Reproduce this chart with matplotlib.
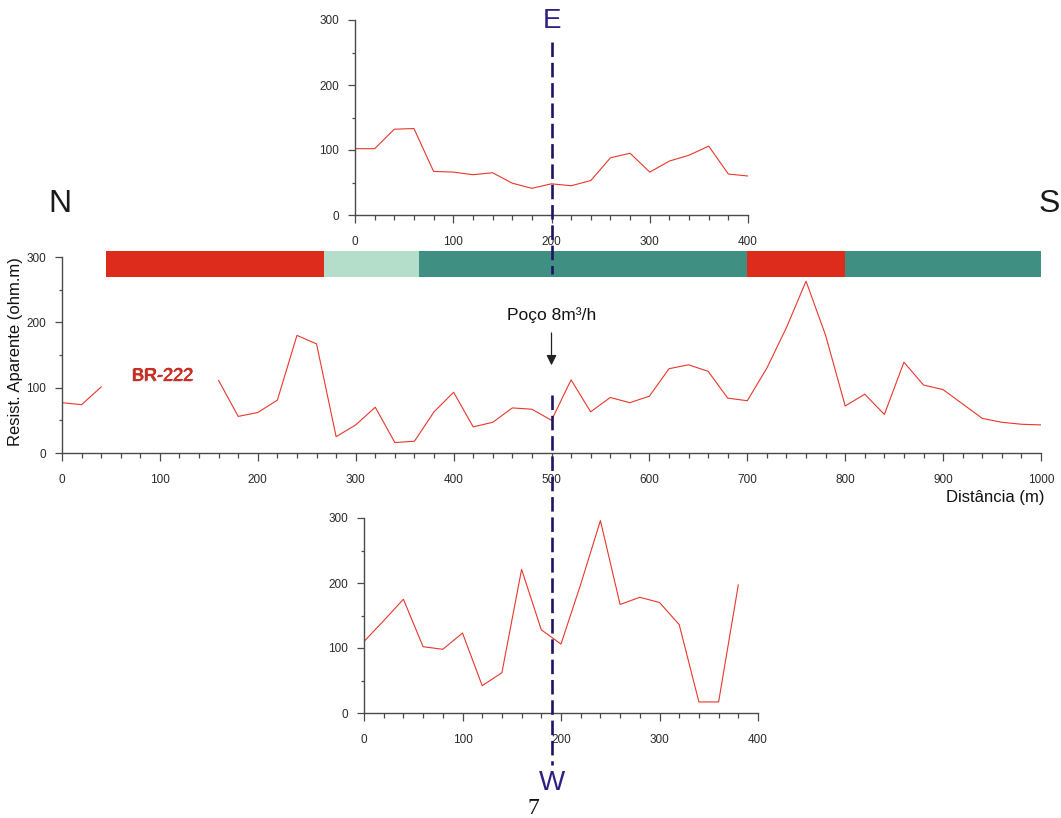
import numpy as np
import matplotlib
matplotlib.use('Agg')
import matplotlib.pyplot as plt
import matplotlib.transforms as mtransforms
import matplotlib.patheffects as pe

plt.rcParams['font.family'] = ['Liberation Sans', 'DejaVu Sans']

# Main profile (N-S), stations every 20 m, gap where the road crosses
main_x = np.arange(0, 1001, 20)
main_rho = [77, 74, 101, np.nan, np.nan, np.nan, np.nan, np.nan, 111, 56,
            62, 81, 180, 167, 25, 43, 70, 16, 18, 63,
            93, 40, 47, 69, 67, 50, 112, 63, 85, 77,
            87, 129, 135, 125, 84, 80, 130, 192, 263, 180,
            72, 90, 59, 139, 104, 97, 75, 53, 47, 44, 43]

# Upper profile (E side)
top_x = np.arange(0, 401, 20)
top_rho = [102, 102, 132, 133, 67, 66, 62, 65, 49, 41,
           48, 45, 53, 88, 95, 66, 83, 92, 106, 63, 60]

# Lower profile (W side)
bot_x = np.arange(0, 381, 20)
bot_rho = [110, 142, 175, 102, 98, 123, 42, 62, 221, 128,
           106, 198, 296, 167, 178, 170, 136, 17, 17, 197]

# Geology bar along the main profile
seg_start = [45, 268, 365, 700, 800]
seg_end = [268, 365, 700, 800, 1000]
seg_color = ['#de2c1c', '#b4dec9', '#3f9083', '#de2c1c', '#3f9083']

well_main = 500

line_red = '#e8372b'
axis_col = '#4a4a4a'
navy = '#1f1566'

W, H = 1061, 818


def fx(px):
    return px / W


def fy(py):
    return 1 - py / H


def style_axes(ax, xmax):
    for s in ['top', 'right']:
        ax.spines[s].set_visible(False)
    for s in ['left', 'bottom']:
        ax.spines[s].set_color(axis_col)
        ax.spines[s].set_linewidth(1.0)
    ax.set_xlim(0, xmax)
    ax.set_ylim(0, 300)
    ax.set_xticks(np.arange(0, xmax + 1, 100))
    ax.set_xticks(np.arange(0, xmax + 1, 20), minor=True)
    ax.set_yticks([0, 100, 200, 300])
    ax.set_yticks([50, 150, 250], minor=True)
    ax.tick_params(axis='x', which='major', length=5.8, width=0.9, pad=9,
                   labelsize=8.5, color=axis_col, labelcolor='#2a2a2a')
    ax.tick_params(axis='x', which='minor', length=3.4, width=0.9, color=axis_col)
    ax.tick_params(axis='y', which='major', length=4.8, width=0.9, pad=6.5,
                   labelsize=8.5, color=axis_col, labelcolor='#2a2a2a')
    ax.tick_params(axis='y', which='minor', length=2.4, width=0.9, color=axis_col)
    ax.patch.set_alpha(0)


fig = plt.figure(figsize=(W / 100, H / 100), dpi=100)

ax_top = fig.add_axes([fx(355), fy(215), fx(748 - 355), (215 - 20) / H])
ax_main = fig.add_axes([fx(62), fy(453), fx(1041 - 62), (453 - 257) / H])
ax_bot = fig.add_axes([fx(364), fy(713), fx(758 - 364), (713 - 518) / H])

for ax, xmax in [(ax_top, 400), (ax_main, 1000), (ax_bot, 400)]:
    style_axes(ax, xmax)

ax_top.plot(top_x, top_rho, color=line_red, lw=0.8)
ax_main.plot(main_x, main_rho, color=line_red, lw=0.8)
ax_bot.plot(bot_x, bot_rho, color=line_red, lw=0.8)

# geology bar above the main profile
widths = [e - s for s, e in zip(seg_start, seg_end)]
ax_main.bar(seg_start, 39, width=widths, bottom=270, align='edge',
            color=seg_color, linewidth=0, clip_on=False, zorder=1)

ax_main.text(103, 118, 'BR-222', color='#d42a1e', fontsize=13,
             ha='center', va='center',
             path_effects=[pe.withSimplePatchShadow(offset=(-0.8, -0.6),
                                                    shadow_rgbFace='#8a1a10',
                                                    alpha=0.8),
                           pe.Normal()])

ax_main.text(well_main, 211, 'Poço 8m³/h', fontsize=12.5,
             ha='center', va='center', color='#111111')
ax_main.annotate('', xy=(well_main, 130), xytext=(well_main, 188),
                 arrowprops=dict(arrowstyle='-|>', color='#222222', lw=0.9,
                                 mutation_scale=15))

fig.text(fx(16), fy(352), 'Resist. Aparente (ohm.m)', rotation=90,
         fontsize=12, ha='center', va='center', color='#111111')
fig.text(fx(1045), fy(497), 'Distância (m)', fontsize=12,
         ha='right', va='center', color='#111111')

# well line crossing the three profiles
tr = mtransforms.blended_transform_factory(ax_main.transData, fig.transFigure)
for y0, y1 in [(42, 274), (395, 765)]:
    fig.add_artist(plt.Line2D([well_main, well_main], [fy(y0), fy(y1)],
                              transform=tr, color=navy, lw=1.9,
                              linestyle=(0, (5.5, 2.2)), zorder=5))

fig.text(fx(60), fy(204), 'N', fontsize=23, ha='center', va='center', color='#1a1a1a')
fig.text(fx(1049), fy(204), 'S', fontsize=23, ha='center', va='center', color='#1a1a1a')
fig.text(fx(552), fy(21), 'E', fontsize=20, ha='center', va='center', color='#2e2080')
fig.text(fx(552), fy(783), 'W', fontsize=20, ha='center', va='center', color='#2e2080')
fig.text(fx(533), fy(808), '7', fontsize=17, ha='center', va='center',
         family=['Liberation Serif', 'DejaVu Serif'], color='#111111')

fig.savefig('out.png', dpi=100)
